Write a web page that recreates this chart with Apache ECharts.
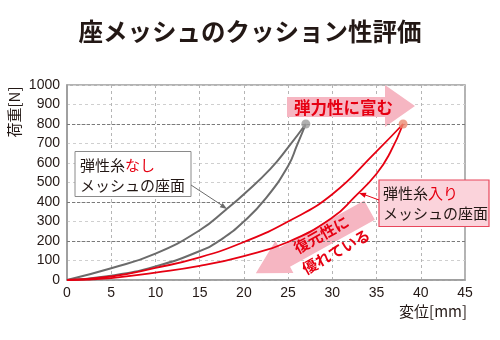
<!DOCTYPE html>
<html>
<head>
<meta charset="utf-8">
<script src="https://cdn.jsdelivr.net/npm/echarts@6/dist/echarts.min.js"></script>
<style>
html,body{margin:0;padding:0;background:#fff;}
#main{width:500px;height:340px;}
</style>
</head>
<body>
<div id="main"></div>
<script>
// ---- data ----
const titleText = '座メッシュのクッション性評価';
const xName = '変位[mm]';
const yName = '荷重[N]';
const xTicks = [0, 5, 10, 15, 20, 25, 30, 35, 40, 45];
const yTicks = [0, 100, 200, 300, 400, 500, 600, 700, 800, 900, 1000];

// 弾性糸なし (gray): loading / unloading
const grayLoadX   = [0, 5, 10, 15, 18, 20, 23, 25, 27];
const grayLoadY   = [0, 60, 135, 255, 362, 440, 570, 680, 800];
const grayUnloadX = [0, 5, 10, 15, 17.5, 20, 22.5, 25, 26, 27];
const grayUnloadY = [0, 22, 70, 148, 210, 300, 420, 585, 690, 800];

// 弾性糸入り (red): loading / unloading
const redLoadX   = [0, 5, 10, 15, 20, 25, 30, 35, 38];
const redLoadY   = [0, 18, 62, 116, 195, 300, 440, 660, 800];
const redUnloadX = [0, 5, 10, 15, 20, 25, 30, 32.5, 35, 36.5, 38];
const redUnloadY = [0, 10, 38, 72, 123, 195, 320, 425, 545, 650, 800];

// end points
const grayEnd = [27, 800];
const redEnd  = [38, 800];

// darker horizontal reference lines
const darkLines = [200, 400, 800];

const zip = (xs, ys) => xs.map((x, i) => [x, ys[i]]);

const chart = echarts.init(document.getElementById('main'), null, {renderer: 'canvas'});
const FONT = '"Noto Sans CJK JP", "Noto Sans", sans-serif';
const NUMFONT = '"Liberation Sans", Arial, sans-serif';
const RED = '#e60012';
const PINK = '#f6b6c2';

function arrowHead(x1, y1, x2, y2, len, half, color) {
  const a = Math.atan2(y2 - y1, x2 - x1);
  const bx = x2 - len * Math.cos(a), by = y2 - len * Math.sin(a);
  const px = -Math.sin(a) * half, py = Math.cos(a) * half;
  return {type: 'polygon', z: 20, silent: true,
    shape: {points: [[x2, y2], [bx + px, by + py], [bx - px, by - py]]},
    style: {fill: color}};
}

const curve = (name, xs, ys, color, w) => ({
  name, type: 'line', data: zip(xs, ys), smooth: 0.5,
  showSymbol: false, lineStyle: {color, width: w}, z: 5
});

const series = [
  curve('grayLoad', grayLoadX, grayLoadY, '#6b6b6b', 2),
  curve('grayUnload', grayUnloadX, grayUnloadY, '#6b6b6b', 2),
  curve('redLoad', redLoadX, redLoadY, RED, 1.8),
  curve('redUnload', redUnloadX, redUnloadY, RED, 1.8),
  {name: 'ends', type: 'scatter', symbolSize: 9, z: 6,
   data: [
     {value: grayEnd, itemStyle: {color: '#9c9c9c'}},
     {value: redEnd, itemStyle: {color: '#ec8a70'}}
   ]}
];
series[0].markLine = {silent: true, symbol: 'none', label: {show: false},
  lineStyle: {color: '#7a7a7a', type: [3, 2], width: 1},
  data: darkLines.map(v => ({yAxis: v}))};

const option = {
  animation: false,
  title: {
    text: titleText, left: 'center', top: 14,
    textStyle: {fontFamily: FONT, fontSize: 24.5, fontWeight: 'bold', color: '#231815'}
  },
  grid: {left: 67, right: 35, top: 85, bottom: 60, show: true,
    borderColor: '#9a9a9a', borderWidth: 1.5, backgroundColor: 'transparent'},
  xAxis: {
    type: 'value', min: xTicks[0], max: xTicks[xTicks.length - 1], interval: 5,
    axisLine: {show: true, lineStyle: {color: '#9a9a9a', width: 1.5}},
    axisTick: {show: false},
    axisLabel: {fontFamily: NUMFONT, fontSize: 14, color: '#231815', margin: 6,
      formatter: v => String(v)},
    splitLine: {show: true, lineStyle: {color: '#b5b5b5', type: [3, 3], width: 1}}
  },
  yAxis: {
    type: 'value', min: yTicks[0], max: yTicks[yTicks.length - 1], interval: 100,
    axisLine: {show: true, lineStyle: {color: '#9a9a9a', width: 1.5}},
    axisTick: {show: false},
    axisLabel: {fontFamily: NUMFONT, fontSize: 14, color: '#231815', margin: 7,
      formatter: v => String(v)},
    splitLine: {show: true, lineStyle: {color: '#cfcfcf', type: [3, 3], width: 1}}
  },
  series,
  graphic: [
    // y axis name
    {type: 'text', x: 14, y: 112, rotation: Math.PI / 2, z: 10,
     style: {text: yName, font: '15px ' + FONT, fill: '#231815', align: 'center', verticalAlign: 'middle'}},
    // x axis name
    {type: 'text', x: 467, y: 311, z: 10,
     style: {text: xName, font: '15px ' + FONT, fill: '#231815', align: 'right', verticalAlign: 'middle'}},
    // right pointing pink arrow
    {type: 'polygon', z: 1, silent: true,
     shape: {points: [[287, 97], [385, 97], [385, 85], [415, 106], [385, 127], [385, 117], [287, 117]]},
     style: {fill: PINK}},
    {type: 'text', x: 294, y: 108, z: 10,
     style: {text: '弾力性に富む', font: 'bold 16.5px ' + FONT, fill: RED, align: 'left', verticalAlign: 'middle'}},
    // down-left pink arrow with text
    {type: 'group', x: 322, y: 240, rotation: 0.506, z: 1, children: [
      {type: 'polygon', z: 1, silent: true,
       shape: {points: [[-74, -3], [-41, -22], [-41, -14], [56, -14], [56, 8], [-41, 8], [-41, 15]]},
       style: {fill: PINK}},
      {type: 'text', x: -28, y: -5, z: 10,
       style: {text: '復元性に', font: 'bold 15px ' + FONT, fill: RED, align: 'left', verticalAlign: 'middle'}},
      {type: 'text', x: -31, y: 17, z: 10,
       style: {text: '優れている', font: 'bold 15px ' + FONT, fill: RED, align: 'left', verticalAlign: 'middle'}}
    ]},
    // box 1 (弾性糸なし)
    {type: 'rect', z: 10, shape: {x: 75, y: 151.5, width: 116, height: 45},
     style: {fill: '#fff', stroke: '#8a8a8a', lineWidth: 1}},
    {type: 'text', x: 80, y: 155, z: 11,
     style: {text: '{k|弾性糸}{r|なし}\n{k|メッシュの座面}',
       rich: {k: {fontFamily: FONT, fontSize: 15, fill: '#231815', lineHeight: 20},
              r: {fontFamily: FONT, fontSize: 15, fill: RED, lineHeight: 20}}}},
    {type: 'line', z: 12, shape: {x1: 191, y1: 185, x2: 223, y2: 206},
     style: {stroke: '#6b6b6b', lineWidth: 1}},
    arrowHead(191, 185, 227, 209, 7, 2.6, '#6b6b6b'),
    // box 2 (弾性糸入り)
    {type: 'rect', z: 10, shape: {x: 379, y: 180, width: 110, height: 46.5},
     style: {fill: '#fbd3db', stroke: '#e8475c', lineWidth: 1.2}},
    {type: 'text', x: 383, y: 184, z: 11,
     style: {text: '{k|弾性糸}{r|入り}\n{k|メッシュの座面}',
       rich: {k: {fontFamily: FONT, fontSize: 15, fill: '#231815', lineHeight: 19.5},
              r: {fontFamily: FONT, fontSize: 15, fill: RED, lineHeight: 19.5}}}},
    {type: 'line', z: 12, shape: {x1: 379, y1: 200, x2: 364, y2: 194.5},
     style: {stroke: RED, lineWidth: 1}},
    arrowHead(379, 200, 359, 193, 7, 2.6, RED)
  ]
};
chart.setOption(option);
</script>
</body>
</html>
